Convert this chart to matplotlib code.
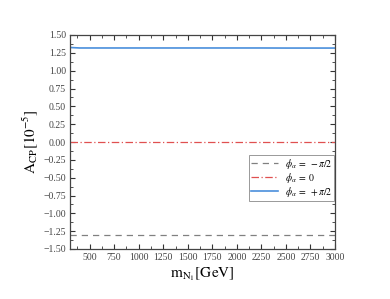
import matplotlib
matplotlib.use("Agg")
import matplotlib.pyplot as plt
from matplotlib.ticker import MultipleLocator

plt.rcParams['font.family'] = ['Liberation Serif', 'DejaVu Serif']
plt.rcParams['mathtext.fontset'] = 'stix'

m_N1 = [300, 400, 500, 750, 1000, 1250, 1500, 1750, 2000, 2250, 2500, 2750, 3000]
acp_minus = [-1.31, -1.31, -1.31, -1.31, -1.31, -1.31, -1.31, -1.31, -1.31, -1.31, -1.31, -1.31, -1.31]
acp_zero = [0.0] * len(m_N1)
acp_plus = [1.325, 1.318, 1.318, 1.318, 1.318, 1.318, 1.318, 1.318, 1.318, 1.318, 1.317, 1.317, 1.317]
labels = [r'$\phi_\alpha\;=\;-\pi/2$', r'$\phi_\alpha\;=\;0$', r'$\phi_\alpha\;=\;+\pi/2$']

fig = plt.figure(figsize=(3.9, 2.99), dpi=100)
ax = fig.add_axes([70/390, 1-249/299, (335-70)/390, (249-35)/299])

ax.plot(m_N1, acp_minus, color='#808080', ls=(0, (5, 4)), lw=0.9, label=labels[0])
ax.plot(m_N1, acp_zero, color='#e05050', ls=(0, (6, 2, 1, 2)), lw=0.9, label=labels[1])
ax.plot(m_N1, acp_plus, color='#4a8fdc', ls='-', lw=1.2, label=labels[2])

ax.set_xlim(300, 3000)
ax.set_ylim(-1.5, 1.5)
ax.xaxis.set_minor_locator(MultipleLocator(125))
ax.yaxis.set_major_locator(MultipleLocator(0.25))
ax.yaxis.set_minor_locator(MultipleLocator(0.125))
ax.set_xticks([500, 750, 1000, 1250, 1500, 1750, 2000, 2250, 2500, 2750, 3000])
yt = [-1.5 + 0.25 * i for i in range(13)]
ax.set_yticks(yt)
ax.set_yticklabels([f'{v:.2f}'.replace('-', '\u2212') for v in yt])
ax.tick_params(which='both', direction='in', top=True, right=True, labelsize=7, color='#333333', labelcolor='#444444')
ax.tick_params(which='major', length=3.5, width=0.8, pad=3)
ax.tick_params(which='minor', length=2, width=0.6)
for s in ax.spines.values():
    s.set_color('#444444')
    s.set_linewidth(0.9)

ax.set_xlabel(r'$\mathrm{m}_{\mathrm{N}_1}[\mathrm{GeV}]$', fontsize=11, labelpad=2)
ax.set_ylabel(r'$\mathrm{A}_{\mathrm{CP}}[10^{-5}]$', fontsize=11, labelpad=2)

leg = ax.legend(loc='upper right', bbox_to_anchor=(1.0, 0.445), fontsize=7, frameon=True,
                fancybox=False, edgecolor='#999999', framealpha=1, handlelength=2.8,
                borderpad=0.2, labelspacing=0.0, handletextpad=0.7, borderaxespad=0.1)
leg.get_frame().set_linewidth(0.7)

fig.savefig('out.png', dpi=100)
